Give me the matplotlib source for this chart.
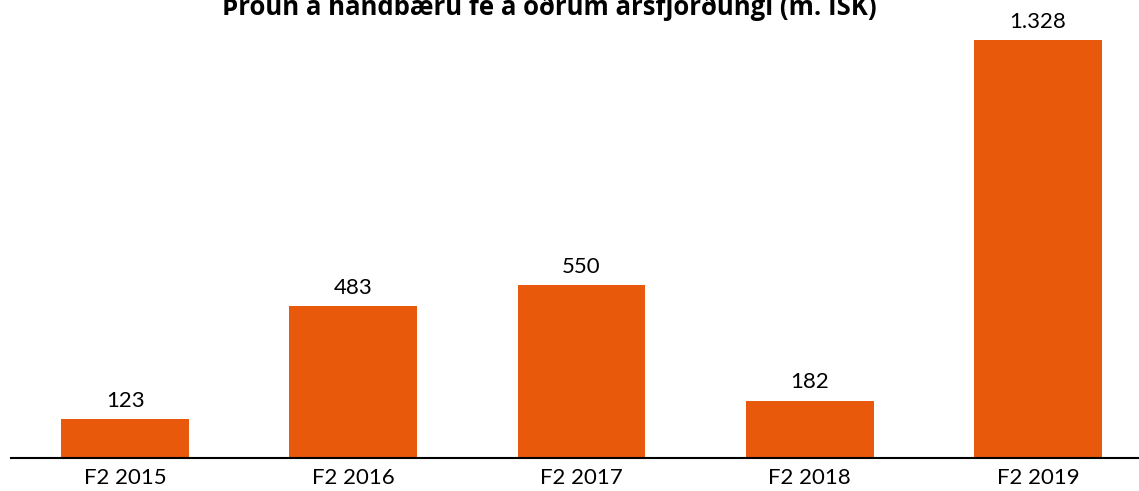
import matplotlib.pyplot as plt

# Data
categories = ['F2 2015', 'F2 2016', 'F2 2017', 'F2 2018', 'F2 2019']
values = [123, 483, 550, 182, 1328]
value_labels = ['123', '483', '550', '182', '1.328']

plt.rcParams['font.family'] = ['Lato', 'DejaVu Sans']

fig = plt.figure(figsize=(11.39, 4.91), dpi=100)
W, H = 1139., 491.
ax = fig.add_axes([11/W, 33/H, 1141/W, 458/H])

x = range(len(categories))
bars = ax.bar(x, values, width=0.56, color='#E8590C')
ax.set_xlim(-0.5, 4.5)
ax.set_ylim(0, 1328 * 458 / 418)

for b, lab in zip(bars, value_labels):
    ax.annotate(lab, (b.get_x() + b.get_width() / 2, b.get_height()),
                xytext=(0, 6), textcoords='offset points',
                ha='center', va='bottom', fontsize=16, annotation_clip=False)

ax.set_xticks(list(x))
ax.set_xticklabels(categories, fontsize=16)
ax.tick_params(axis='x', length=0, pad=7)
ax.set_yticks([])
for s in ['top', 'right', 'left']:
    ax.spines[s].set_visible(False)
ax.spines['bottom'].set_linewidth(1.5)

fig.text(549/W, 1 - 15/H, 'Þróun á handbæru fé á öðrum ársfjórðungi (m. ISK)',
         ha='center', va='baseline', fontsize=18.5, fontweight='bold',
         family=['Open Sans', 'DejaVu Sans'])

fig.savefig('out.png', dpi=100)
